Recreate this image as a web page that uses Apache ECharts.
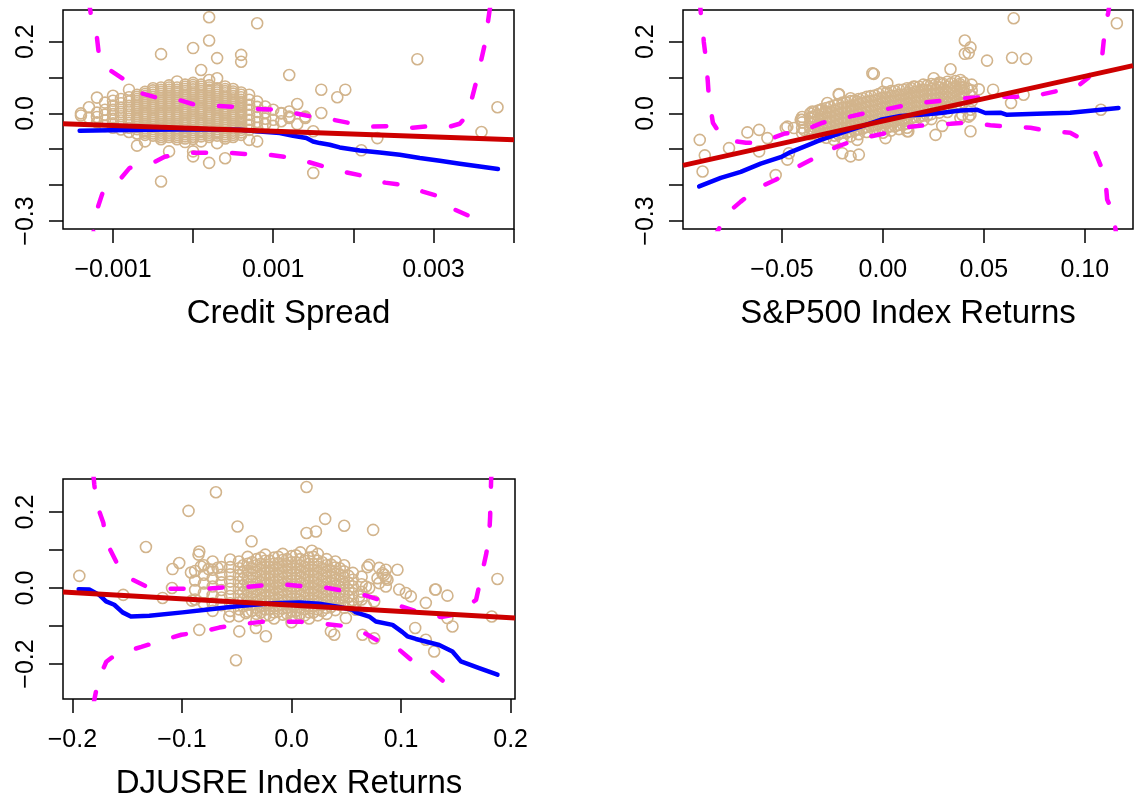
<!DOCTYPE html>
<html>
<head>
<meta charset="utf-8">
<script src="https://cdn.jsdelivr.net/npm/echarts@6/dist/echarts.min.js"></script>
<style>
html,body{margin:0;padding:0;background:#fff;}
#c{width:1134px;height:810px;}
</style>
</head>
<body>
<div id="c"></div>
<script>
// ---------- Panel 1: Credit Spread ----------
const creditCols = [
  [-0.0014, [0.000, -0.006]],
  [-0.0013, [0.017, -0.012]],
  [-0.0012, [0.044, 0.002, -0.010, -0.025]],
  [-0.0011, [0.030, 0.010, -0.004, -0.020, -0.035]],
  [-0.0010, [0.049, 0.035, 0.022, 0.010, -0.002, -0.015, -0.028, -0.040]],
  [-0.0009, [0.040, 0.028, 0.016, 0.004, -0.008, -0.020, -0.032, -0.045]],
  [-0.0008, [0.066, 0.045, 0.033, 0.021, 0.009, -0.003, -0.015, -0.027, -0.040, -0.052]],
  [-0.0007, [0.052, 0.040, 0.028, 0.016, 0.004, -0.008, -0.020, -0.032, -0.044, -0.056, -0.090]],
  [-0.0006, [0.060, 0.048, 0.036, 0.024, 0.012, 0.000, -0.012, -0.024, -0.036, -0.048, -0.060, -0.078]],
  [-0.0005, [0.070, 0.058, 0.046, 0.034, 0.022, 0.010, -0.002, -0.014, -0.026, -0.038, -0.050, -0.062]],
  [-0.0004, [0.165, 0.072, 0.060, 0.048, 0.036, 0.024, 0.012, 0.000, -0.012, -0.024, -0.036, -0.048, -0.060, -0.072, -0.190]],
  [-0.0003, [0.078, 0.066, 0.054, 0.042, 0.030, 0.018, 0.006, -0.006, -0.018, -0.030, -0.042, -0.054, -0.066, -0.106]],
  [-0.0002, [0.089, 0.072, 0.060, 0.048, 0.036, 0.024, 0.012, 0.000, -0.012, -0.024, -0.036, -0.048, -0.060, -0.072]],
  [-0.0001, [0.080, 0.068, 0.056, 0.044, 0.032, 0.020, 0.008, -0.004, -0.016, -0.028, -0.040, -0.052, -0.064, -0.080]],
  [0.0000, [0.182, 0.085, 0.073, 0.061, 0.049, 0.037, 0.025, 0.013, 0.001, -0.011, -0.023, -0.035, -0.047, -0.059, -0.071, -0.106, -0.120]],
  [0.0001, [0.121, 0.080, 0.068, 0.056, 0.044, 0.032, 0.020, 0.008, -0.004, -0.016, -0.028, -0.040, -0.052, -0.064, -0.078]],
  [0.0002, [0.268, 0.203, 0.093, 0.078, 0.066, 0.054, 0.042, 0.030, 0.018, 0.006, -0.006, -0.018, -0.030, -0.042, -0.054, -0.066, -0.138]],
  [0.0003, [0.154, 0.098, 0.070, 0.058, 0.046, 0.034, 0.022, 0.010, -0.002, -0.014, -0.026, -0.038, -0.050, -0.062, -0.083]],
  [0.0004, [0.075, 0.062, 0.050, 0.038, 0.026, 0.014, 0.002, -0.010, -0.022, -0.034, -0.046, -0.058, -0.070, -0.125]],
  [0.0005, [0.068, 0.055, 0.042, 0.030, 0.018, 0.006, -0.006, -0.018, -0.030, -0.042, -0.054, -0.066]],
  [0.0006, [0.163, 0.144, 0.058, 0.045, 0.032, 0.019, 0.006, -0.007, -0.020, -0.033, -0.046, -0.060]],
  [0.0007, [0.052, 0.038, 0.024, 0.010, -0.004, -0.018, -0.032, -0.046, -0.074]],
  [0.0008, [0.251, 0.033, 0.018, 0.004, -0.010, -0.024, -0.040, -0.078]],
  [0.0009, [0.019, 0.002, -0.015, -0.030]],
  [0.0010, [0.010, -0.018, -0.035]],
  [0.0011, [0.000, -0.022, 0.001]],
  [0.0012, [0.107, -0.009, 0.005, -0.013]],
  [0.0013, [0.026, -0.030]],
  [0.0014, [-0.009, -0.013]],
  [0.0015, [-0.166, -0.050]],
  [0.0016, [0.066, 0.001]],
  [0.0018, [0.045]],
  [0.0019, [0.066]],
  [0.0021, [-0.103]],
  [0.0023, [-0.069]],
  [0.0028, [0.151]],
  [0.0036, [-0.052]],
  [0.0038, [0.017]]
];
const creditDense = [
  [-0.0007, [0.046, 0.034, 0.022, 0.010, -0.002, -0.014, -0.026, -0.038]],
  [-0.0006, [0.054, 0.042, 0.030, 0.018, 0.006, -0.006, -0.018, -0.030, -0.042, -0.054]],
  [-0.0005, [0.064, 0.052, 0.040, 0.028, 0.016, 0.004, -0.008, -0.020, -0.032, -0.044, -0.056]],
  [-0.0004, [0.066, 0.054, 0.042, 0.030, 0.018, 0.006, -0.006, -0.018, -0.030, -0.042, -0.054, -0.066]],
  [-0.0003, [0.072, 0.060, 0.048, 0.036, 0.024, 0.012, 0.000, -0.012, -0.024, -0.036, -0.048, -0.060]],
  [-0.0002, [0.066, 0.054, 0.042, 0.030, 0.018, 0.006, -0.006, -0.018, -0.030, -0.042, -0.054, -0.066]],
  [-0.0001, [0.074, 0.062, 0.050, 0.038, 0.026, 0.014, 0.002, -0.010, -0.022, -0.034, -0.046, -0.058, -0.070]],
  [0.0000, [0.079, 0.067, 0.055, 0.043, 0.031, 0.019, 0.007, -0.005, -0.017, -0.029, -0.041, -0.053, -0.065]],
  [0.0001, [0.074, 0.062, 0.050, 0.038, 0.026, 0.014, 0.002, -0.010, -0.022, -0.034, -0.046, -0.058]],
  [0.0002, [0.072, 0.060, 0.048, 0.036, 0.024, 0.012, 0.000, -0.012, -0.024, -0.036, -0.048, -0.060]],
  [0.0003, [0.064, 0.052, 0.040, 0.028, 0.016, 0.004, -0.008, -0.020, -0.032, -0.044, -0.056]],
  [0.0004, [0.068, 0.056, 0.044, 0.032, 0.020, 0.008, -0.004, -0.016, -0.028, -0.040, -0.052, -0.064]],
  [0.0005, [0.061, 0.048, 0.036, 0.024, 0.012, 0.000, -0.012, -0.024, -0.036, -0.048, -0.060]],
  [0.0006, [0.052, 0.038, 0.026, 0.012, 0.000, -0.013, -0.026, -0.040, -0.053]]
];
const creditFit = [[-0.001624, -0.029], [0.004006, -0.0736]];
const creditSmooth = [
  [-0.001416, -0.0485], [-0.001041, -0.0471], [-0.000542, -0.0458], [0.000082, -0.0444],
  [0.000582, -0.0458], [0.000831, -0.0505], [0.001081, -0.0549], [0.001247, -0.0624],
  [0.001414, -0.0689], [0.001497, -0.0783], [0.001581, -0.0828], [0.001706, -0.0875],
  [0.001830, -0.0950], [0.002080, -0.1034], [0.002330, -0.1089], [0.002580, -0.1153],
  [0.002830, -0.1245], [0.003080, -0.1320], [0.003330, -0.1404], [0.003580, -0.1479],
  [0.003806, -0.1551]
];
const creditUpper = [
  [-0.001303, 0.316], [-0.001266, 0.260], [-0.001204, 0.219], [-0.001166, 0.144],
  [-0.001042, 0.121], [-0.000817, 0.088], [-0.000704, 0.060], [-0.000442, 0.043],
  [-0.000230, 0.041], [0.000020, 0.024], [0.000245, 0.021], [0.000545, 0.018],
  [0.000744, 0.013], [0.001044, 0.010], [0.001243, 0.002], [0.001543, -0.012],
  [0.001731, -0.017], [0.002043, -0.031], [0.002242, -0.037], [0.002517, -0.035],
  [0.002742, -0.040], [0.002991, -0.035], [0.003204, -0.037], [0.003328, -0.029],
  [0.003428, -0.004], [0.003540, 0.093], [0.003640, 0.191], [0.003702, 0.288], [0.003727, 0.316]
];
const creditLower = [
  [-0.001266, -0.366], [-0.001241, -0.324], [-0.001191, -0.263], [-0.001129, -0.221],
  [-0.001016, -0.199], [-0.000916, -0.185], [-0.000792, -0.152], [-0.000504, -0.138],
  [-0.000355, -0.121], [-0.000067, -0.110], [0.000122, -0.110], [0.000432, -0.110],
  [0.000644, -0.113], [0.000932, -0.115], [0.001144, -0.121], [0.001431, -0.135],
  [0.001644, -0.149], [0.001919, -0.165], [0.002118, -0.174], [0.002395, -0.193],
  [0.002606, -0.199], [0.002869, -0.218], [0.003081, -0.232], [0.003265, -0.268], [0.003466, -0.288]
];
const creditXTicks = [-0.001, 0, 0.001, 0.002, 0.003, 0.004];
const creditXLabels = [-0.001, 0.001, 0.003];

// ---------- Panel 2: S&P500 Index Returns ----------
const spCols = [
  [-0.040, [-0.010, -0.025, -0.040, -0.055]],
  [-0.036, [0.000, -0.014, -0.028, -0.042, -0.058]],
  [-0.032, [0.008, -0.006, -0.020, -0.034, -0.048, -0.062]],
  [-0.028, [0.015, 0.002, -0.012, -0.026, -0.040, -0.055, -0.068]],
  [-0.024, [0.022, 0.008, -0.006, -0.020, -0.034, -0.048, -0.062]],
  [-0.020, [0.030, 0.016, 0.002, -0.012, -0.026, -0.040, -0.054, -0.070]],
  [-0.016, [0.034, 0.020, 0.006, -0.008, -0.022, -0.036, -0.050, -0.064]],
  [-0.012, [0.040, 0.026, 0.012, -0.002, -0.016, -0.030, -0.044, -0.058]],
  [-0.008, [0.046, 0.032, 0.018, 0.004, -0.010, -0.024, -0.038, -0.052]],
  [-0.004, [0.050, 0.036, 0.022, 0.008, -0.006, -0.020, -0.034, -0.048]],
  [0.000, [0.060, 0.044, 0.030, 0.016, 0.002, -0.012, -0.026, -0.040, -0.054]],
  [0.004, [0.062, 0.048, 0.034, 0.020, 0.006, -0.008, -0.022, -0.036, -0.048]],
  [0.008, [0.066, 0.052, 0.038, 0.024, 0.010, -0.004, -0.018, -0.032, -0.044]],
  [0.012, [0.070, 0.056, 0.042, 0.028, 0.014, 0.000, -0.014, -0.028, -0.040]],
  [0.016, [0.074, 0.060, 0.046, 0.032, 0.018, 0.004, -0.010, -0.024]],
  [0.020, [0.080, 0.064, 0.050, 0.036, 0.022, 0.008, -0.006, -0.020]],
  [0.024, [0.082, 0.068, 0.054, 0.040, 0.026, 0.012, -0.002, -0.016]],
  [0.028, [0.086, 0.072, 0.058, 0.044, 0.030, 0.016, 0.002]],
  [0.032, [0.088, 0.074, 0.060, 0.046, 0.032, 0.018, 0.004]],
  [0.036, [0.090, 0.076, 0.062, 0.048, 0.034, 0.020]],
  [0.040, [0.086, 0.072, 0.058, 0.044, 0.030]],
  [0.044, [0.080, 0.064, 0.048, 0.034]]
];
const spDense = [
  [-0.034, [0.004, -0.010, -0.024, -0.038, -0.052]],
  [-0.030, [0.012, -0.002, -0.016, -0.030, -0.044, -0.058]],
  [-0.026, [0.018, 0.004, -0.010, -0.024, -0.038, -0.052]],
  [-0.022, [0.026, 0.012, -0.002, -0.016, -0.030, -0.044, -0.058]],
  [-0.018, [0.030, 0.016, 0.002, -0.012, -0.026, -0.040, -0.054]],
  [-0.014, [0.036, 0.022, 0.008, -0.006, -0.020, -0.034, -0.048]],
  [-0.010, [0.042, 0.028, 0.014, 0.000, -0.014, -0.028, -0.042]],
  [-0.006, [0.048, 0.034, 0.020, 0.006, -0.008, -0.022, -0.036]],
  [-0.002, [0.054, 0.040, 0.026, 0.012, -0.002, -0.016, -0.030, -0.044]],
  [0.002, [0.058, 0.044, 0.030, 0.016, 0.002, -0.012, -0.026, -0.040]],
  [0.006, [0.062, 0.048, 0.034, 0.020, 0.006, -0.008, -0.022, -0.036]],
  [0.010, [0.066, 0.052, 0.038, 0.024, 0.010, -0.004, -0.018, -0.032]],
  [0.014, [0.070, 0.056, 0.042, 0.028, 0.014, 0.000, -0.014]],
  [0.018, [0.074, 0.060, 0.046, 0.032, 0.018, 0.004, -0.010]],
  [0.022, [0.078, 0.064, 0.050, 0.036, 0.022, 0.008, -0.006]],
  [0.026, [0.080, 0.066, 0.052, 0.038, 0.024, 0.010]],
  [0.030, [0.082, 0.068, 0.054, 0.040, 0.026, 0.012]],
  [0.034, [0.084, 0.070, 0.056, 0.042, 0.028]],
  [0.038, [0.082, 0.068, 0.054, 0.040, 0.026]]
];
const spExtra = [
  [-0.0907, -0.074], [-0.0882, -0.117], [-0.0893, -0.162], [-0.0762, -0.097], [-0.0671, -0.053],
  [-0.0613, -0.046], [-0.0572, -0.069], [-0.0531, -0.172], [-0.0613, -0.106], [-0.0481, -0.041],
  [-0.0440, -0.041], [-0.0399, -0.018], [-0.0473, -0.037], [-0.0473, -0.129], [-0.0465, -0.111],
  [-0.0407, -0.018], [-0.0391, -0.046], [-0.0349, -0.009], [-0.0308, 0.010], [-0.0283, 0.005],
  [-0.0218, 0.054], [-0.0160, 0.042], [-0.0127, 0.033], [-0.0193, -0.018], [-0.0201, -0.111],
  [-0.0160, -0.120], [-0.0119, -0.115], [-0.0127, -0.074], [-0.0052, 0.112], [0.0022, 0.084],
  [0.0013, -0.069], [0.0121, -0.050], [0.0153, 0.075], [0.0195, 0.066], [0.0252, 0.098],
  [0.0285, 0.084], [0.0261, -0.060], [0.0294, -0.035], [0.0335, 0.123], [0.0384, 0.093],
  [0.0384, 0.075], [0.0417, 0.070], [0.0406, 0.203], [0.0434, 0.184], [0.0406, 0.166],
  [0.0425, 0.168], [0.0516, 0.147], [0.0475, 0.067], [0.0546, 0.066], [0.0434, -0.050],
  [0.0393, -0.004], [0.0425, -0.009], [0.0648, 0.265], [0.1159, 0.251], [0.0640, 0.155],
  [0.0709, 0.152], [-0.0045, 0.110], [0.0697, 0.052], [0.0635, 0.029], [0.0434, 0.010],
  [0.0434, -0.004], [0.0384, -0.013], [0.0126, -0.050], [0.1080, 0.010], [-0.0218, 0.052],
  [-0.0308, -0.064], [-0.0242, -0.074], [-0.0275, 0.029], [-0.0349, 0.005]
];
const spFit = [[-0.099, -0.145], [0.1239, 0.133]];
const spSmooth = [
  [-0.0910, -0.2036], [-0.0803, -0.180], [-0.0704, -0.163], [-0.0605, -0.140], [-0.0506, -0.122],
  [-0.0457, -0.108], [-0.0374, -0.089], [-0.0308, -0.074], [-0.0209, -0.055], [-0.0110, -0.037],
  [-0.0011, -0.018], [0.0088, -0.007], [0.0186, -0.004], [0.0285, 0.001], [0.0384, 0.008],
  [0.0467, 0.010], [0.0508, 0.001], [0.0582, 0.002], [0.0615, -0.004], [0.0764, -0.001],
  [0.0928, 0.002], [0.1167, 0.015]
];
const spUpper = [
  [-0.0907, 0.316], [-0.0902, 0.280], [-0.0892, 0.241], [-0.0887, 0.199], [-0.0877, 0.155],
  [-0.0867, 0.088], [-0.0862, 0.046], [-0.0842, -0.026], [-0.0803, -0.060], [-0.0753, -0.076],
  [-0.0678, -0.082], [-0.0605, -0.082], [-0.0491, -0.057], [-0.0407, -0.051], [-0.0298, -0.026],
  [-0.0209, -0.015], [-0.0100, -0.001], [-0.0021, 0.007], [0.0097, 0.021], [0.0176, 0.029],
  [0.0295, 0.035], [0.0384, 0.041], [0.0533, 0.046], [0.0696, 0.046], [0.0780, 0.052],
  [0.0894, 0.066], [0.0968, 0.077], [0.1018, 0.099], [0.1042, 0.135], [0.1087, 0.163],
  [0.1101, 0.241], [0.1116, 0.280], [0.1126, 0.316]
];
const spLower = [
  [-0.0842, -0.352], [-0.0768, -0.277], [-0.0704, -0.246], [-0.0615, -0.207], [-0.0531, -0.185],
  [-0.0432, -0.152], [-0.0358, -0.130], [-0.0254, -0.099], [-0.0175, -0.082], [-0.0066, -0.065],
  [0.0023, -0.054], [0.0137, -0.037], [0.0216, -0.033], [0.0335, -0.029], [0.0419, -0.026],
  [0.0533, -0.033], [0.0607, -0.037], [0.0731, -0.040], [0.0815, -0.049], [0.0928, -0.054],
  [0.1008, -0.079], [0.1047, -0.101], [0.1067, -0.129], [0.1101, -0.176], [0.1111, -0.240],
  [0.1141, -0.277], [0.1156, -0.338]
];
const spXTicks = [-0.05, 0, 0.05, 0.10];
const spXLabels = [-0.05, 0, 0.05, 0.10];

// ---------- Panel 3: DJUSRE Index Returns ----------
const djCols = [
  [-0.088, [0.045, 0.020, -0.005, -0.030]],
  [-0.080, [0.060, 0.035, 0.012, -0.012, -0.040]],
  [-0.072, [0.070, 0.048, 0.026, 0.004, -0.018, -0.040, -0.060]],
  [-0.064, [0.055, 0.035, 0.015, -0.005, -0.025, -0.045]],
  [-0.056, [0.075, 0.055, 0.036, 0.017, -0.002, -0.021, -0.040, -0.060]],
  [-0.048, [0.070, 0.052, 0.034, 0.016, -0.002, -0.020, -0.038, -0.056, -0.074]],
  [-0.040, [0.082, 0.064, 0.046, 0.028, 0.010, -0.008, -0.026, -0.044, -0.062]],
  [-0.032, [0.076, 0.060, 0.044, 0.028, 0.012, -0.004, -0.020, -0.036, -0.052, -0.068, -0.085]],
  [-0.024, [0.088, 0.072, 0.056, 0.040, 0.024, 0.008, -0.008, -0.024, -0.040, -0.056, -0.072]],
  [-0.016, [0.080, 0.064, 0.048, 0.032, 0.016, 0.000, -0.016, -0.032, -0.048, -0.064, -0.080]],
  [-0.008, [0.090, 0.074, 0.058, 0.042, 0.026, 0.010, -0.006, -0.022, -0.038, -0.054, -0.070]],
  [0.000, [0.084, 0.068, 0.052, 0.036, 0.020, 0.004, -0.012, -0.028, -0.044, -0.060, -0.076, -0.090]],
  [0.008, [0.094, 0.076, 0.060, 0.044, 0.028, 0.012, -0.004, -0.020, -0.036, -0.052, -0.068]],
  [0.016, [0.080, 0.064, 0.048, 0.032, 0.016, 0.000, -0.016, -0.032, -0.048, -0.064, -0.080]],
  [0.024, [0.090, 0.072, 0.056, 0.040, 0.024, 0.008, -0.008, -0.024, -0.040, -0.056, -0.072]],
  [0.032, [0.076, 0.060, 0.044, 0.028, 0.012, -0.004, -0.020, -0.036, -0.052, -0.068]],
  [0.040, [0.070, 0.054, 0.038, 0.022, 0.006, -0.010, -0.026, -0.042, -0.058]],
  [0.048, [0.060, 0.044, 0.028, 0.012, -0.004, -0.020, -0.036, -0.052]],
  [0.056, [0.040, 0.022, 0.004, -0.014, -0.032, -0.050]],
  [0.064, [0.030, 0.010, -0.010, -0.030]]
];
const djDense = [
  [-0.044, [0.060, 0.042, 0.024, 0.006, -0.012, -0.030, -0.048]],
  [-0.036, [0.068, 0.052, 0.036, 0.020, 0.004, -0.012, -0.028, -0.044, -0.060]],
  [-0.028, [0.080, 0.064, 0.048, 0.032, 0.016, 0.000, -0.016, -0.032, -0.048, -0.064]],
  [-0.020, [0.072, 0.056, 0.040, 0.024, 0.008, -0.008, -0.024, -0.040, -0.056, -0.072]],
  [-0.012, [0.082, 0.066, 0.050, 0.034, 0.018, 0.002, -0.014, -0.030, -0.046, -0.062]],
  [-0.004, [0.076, 0.060, 0.044, 0.028, 0.012, -0.004, -0.020, -0.036, -0.052, -0.068]],
  [0.004, [0.086, 0.068, 0.052, 0.036, 0.020, 0.004, -0.012, -0.028, -0.044, -0.060, -0.076]],
  [0.012, [0.072, 0.056, 0.040, 0.024, 0.008, -0.008, -0.024, -0.040, -0.056, -0.072]],
  [0.020, [0.082, 0.064, 0.048, 0.032, 0.016, 0.000, -0.016, -0.032, -0.048, -0.064]],
  [0.028, [0.068, 0.052, 0.036, 0.020, 0.004, -0.012, -0.028, -0.044, -0.060]],
  [0.036, [0.062, 0.046, 0.030, 0.014, -0.002, -0.018, -0.034, -0.050]],
  [0.044, [0.052, 0.036, 0.020, 0.004, -0.012, -0.028, -0.044]],
  [0.052, [0.032, 0.014, -0.004, -0.022, -0.040]]
];
const djExtra = [
  [-0.1937, 0.032], [-0.1329, 0.108], [-0.0940, 0.203], [-0.0690, 0.252], [-0.0493, 0.162],
  [-0.0365, 0.123], [-0.1536, -0.018], [-0.1177, -0.026], [-0.1091, 0.000], [-0.1086, 0.050],
  [-0.1025, 0.066], [-0.0909, -0.033], [-0.0918, 0.041], [-0.0849, 0.088], [-0.0842, 0.096],
  [-0.0827, 0.057], [-0.0757, 0.050], [-0.0675, 0.053], [-0.0842, -0.110], [-0.0507, -0.190],
  [-0.0477, -0.114], [-0.0568, -0.075], [-0.0416, -0.066], [-0.0325, -0.105], [-0.0234, -0.127],
  [0.0137, 0.266], [0.0307, 0.182], [0.0137, 0.145], [0.0223, 0.149], [0.0481, 0.164],
  [0.0745, 0.153], [0.0186, 0.098], [0.0709, 0.061], [0.0693, 0.055], [0.0967, 0.048],
  [0.0861, 0.048], [0.0846, 0.035], [0.0876, 0.022], [0.1311, -0.004], [0.0983, -0.004],
  [0.1044, -0.013], [0.1089, -0.022], [0.0755, -0.035], [0.0679, -0.048], [0.1129, -0.105],
  [0.1226, -0.136], [0.1302, -0.167], [0.0496, -0.079], [0.0359, -0.114], [0.0390, -0.123],
  [0.0618, -0.022], [0.0679, 0.004], [0.0709, 0.000], [0.1317, -0.004], [0.1423, -0.020],
  [0.1880, 0.024], [0.1828, -0.075], [0.1423, -0.079], [0.1469, -0.101], [0.0648, -0.123],
  [0.0755, -0.132], [0.0800, 0.053], [0.0830, 0.039], [0.0861, 0.026], [0.0785, 0.026],
  [0.0800, 0.013], [0.0861, 0.004], [0.1226, -0.039], [0.0588, -0.057]
];
const djFit = [[-0.2086, -0.0105], [0.204, -0.079]];
const djSmooth = [
  [-0.1943, -0.003], [-0.1846, -0.004], [-0.1755, -0.018], [-0.1693, -0.035], [-0.1618, -0.044],
  [-0.1542, -0.064], [-0.1466, -0.075], [-0.1298, -0.073], [-0.0995, -0.064], [-0.0781, -0.057],
  [-0.0477, -0.047], [-0.0173, -0.040], [0.0070, -0.038], [0.0253, -0.041], [0.0435, -0.050],
  [0.0557, -0.057], [0.0588, -0.064], [0.0709, -0.075], [0.0770, -0.088], [0.0922, -0.097],
  [0.1013, -0.116], [0.1058, -0.127], [0.1135, -0.134], [0.1348, -0.150], [0.1469, -0.167],
  [0.1546, -0.193], [0.1713, -0.211], [0.1880, -0.228]
];
const djUpper = [
  [-0.1809, 0.299], [-0.1800, 0.272], [-0.1782, 0.224], [-0.1718, 0.172], [-0.1691, 0.122],
  [-0.1600, 0.069], [-0.1508, 0.030], [-0.1317, 0.003], [-0.1162, -0.002], [-0.0933, -0.002],
  [-0.0778, -0.002], [-0.0568, 0.003], [-0.0413, 0.003], [-0.0203, 0.009], [-0.0048, 0.009],
  [0.0161, 0.003], [0.0317, 0.001], [0.0526, -0.010], [0.0682, -0.020], [0.0891, -0.039],
  [0.1010, -0.049], [0.1229, -0.070], [0.1366, -0.076], [0.1484, -0.070], [0.1557, -0.057],
  [0.1685, -0.031], [0.1731, 0.030], [0.1776, 0.088], [0.1804, 0.135], [0.1813, 0.188],
  [0.1822, 0.285], [0.1827, 0.311]
];
const djLower = [
  [-0.1809, -0.307], [-0.1782, -0.268], [-0.1755, -0.236], [-0.1691, -0.194], [-0.1618, -0.178],
  [-0.1526, -0.168], [-0.1371, -0.155], [-0.1162, -0.136], [-0.1006, -0.123], [-0.0815, -0.115],
  [-0.0660, -0.104], [-0.0432, -0.094], [-0.0276, -0.089], [-0.0067, -0.089], [0.0089, -0.089],
  [0.0298, -0.094], [0.0453, -0.099], [0.0663, -0.118], [0.0773, -0.136], [0.0983, -0.162],
  [0.1092, -0.189], [0.1284, -0.220], [0.1393, -0.247]
];
const djXTicks = [-0.2, -0.1, 0, 0.1, 0.2];
const djXLabels = [-0.2, -0.1, 0, 0.1, 0.2];

// shared y ticks
const yTicksTop = [-0.3, -0.2, -0.1, 0, 0.1, 0.2];
const yLabelsTop = [-0.3, 0, 0.2];
const yTicksBottom = [-0.2, -0.1, 0, 0.1, 0.2];
const yLabelsBottom = [-0.2, 0, 0.2];

const axisTitles = ['Credit Spread', 'S&P500 Index Returns', 'DJUSRE Index Returns'];

// ---------- build ----------
function flattenCols(cols) {
  const out = [];
  cols.forEach(([x, ys]) => ys.forEach(y => out.push([x, y])));
  return out;
}
const FONT = '"Liberation Sans", Arial, Helvetica, sans-serif';
function fmt(v, d) {
  return (v < 0 ? '\u2212' : '') + Math.abs(v).toFixed(d);
}
function xAx(gi, min, max, ticks, labels, dec, name) {
  return {
    type: 'value', gridIndex: gi, min: min, max: max, position: 'bottom',
    axisLine: { show: false, onZero: false },
    splitLine: { show: false },
    axisTick: { show: true, inside: false, length: 14, customValues: ticks,
      lineStyle: { color: '#000', width: 1.5 } },
    axisLabel: { show: true, customValues: labels, margin: 29,
      formatter: v => fmt(v, dec),
      fontFamily: FONT, fontSize: 25, color: '#000' },
    name: name, nameLocation: 'middle', nameGap: 68,
    nameTextStyle: { fontFamily: FONT, fontSize: 33, color: '#000' }
  };
}
function yAx(gi, min, max, ticks, labels) {
  return {
    type: 'value', gridIndex: gi, min: min, max: max, position: 'left',
    axisLine: { show: false, onZero: false },
    splitLine: { show: false },
    axisTick: { show: true, inside: false, length: 14, customValues: ticks,
      lineStyle: { color: '#000', width: 1.5 } },
    axisLabel: { show: true, customValues: labels, margin: 24, rotate: 90,
      formatter: v => fmt(v, 1),
      fontFamily: FONT, fontSize: 25, color: '#000' }
  };
}
function panelSeries(i, pts, upper, lower, smooth, fit) {
  const base = { xAxisIndex: i, yAxisIndex: i, animation: false, silent: true };
  const lineCommon = Object.assign({ type: 'line', showSymbol: false, symbol: 'none', clip: true }, base);
  return [
    Object.assign({ type: 'scatter', data: pts, symbol: 'circle', symbolSize: 11, z: 2,
      itemStyle: { color: 'rgba(0,0,0,0)', borderColor: '#D2B48C', borderWidth: 1.6, opacity: 1 } }, base),
    Object.assign({}, lineCommon, { data: upper, z: 3,
      lineStyle: { color: '#FF00FF', width: 4.5, type: [13, 26], cap: 'round' } }),
    Object.assign({}, lineCommon, { data: lower, z: 3,
      lineStyle: { color: '#FF00FF', width: 4.5, type: [13, 26], cap: 'round' } }),
    Object.assign({}, lineCommon, { data: smooth, z: 4,
      lineStyle: { color: '#0000FF', width: 4.5, join: 'round', cap: 'round' } }),
    Object.assign({}, lineCommon, { data: fit, z: 5,
      lineStyle: { color: '#CD0000', width: 5 } })
  ];
}

const creditPts = flattenCols(creditCols).concat(flattenCols(creditDense));
const spPts = flattenCols(spCols).concat(flattenCols(spDense), spExtra);
const djPts = flattenCols(djCols).concat(flattenCols(djDense), djExtra);

const gridCommon = { show: true, borderColor: '#000', borderWidth: 1.5, backgroundColor: 'transparent',
  containLabel: false, outerBoundsMode: 'none' };

const option = {
  backgroundColor: '#fff',
  animation: false,
  grid: [
    Object.assign({ left: 63, top: 10, width: 451, height: 219 }, gridCommon),
    Object.assign({ left: 683, top: 10, width: 450, height: 219 }, gridCommon),
    Object.assign({ left: 63, top: 479, width: 452, height: 220 }, gridCommon)
  ],
  xAxis: [
    xAx(0, -0.001624, 0.004006, creditXTicks, creditXLabels, 3, axisTitles[0]),
    xAx(1, -0.099, 0.1239, spXTicks, spXLabels, 2, axisTitles[1]),
    xAx(2, -0.2086, 0.204, djXTicks, djXLabels, 1, axisTitles[2])
  ],
  yAxis: [
    yAx(0, -0.3223, 0.2881, yTicksTop, yLabelsTop),
    yAx(1, -0.3223, 0.2881, yTicksTop, yLabelsTop),
    yAx(2, -0.292, 0.287, yTicksBottom, yLabelsBottom)
  ],
  series: [].concat(
    panelSeries(0, creditPts, creditUpper, creditLower, creditSmooth, creditFit),
    panelSeries(1, spPts, spUpper, spLower, spSmooth, spFit),
    panelSeries(2, djPts, djUpper, djLower, djSmooth, djFit)
  )
};
const chart = echarts.init(document.getElementById('c'), null, { renderer: 'canvas' });
chart.setOption(option);
</script>
</body>
</html>
